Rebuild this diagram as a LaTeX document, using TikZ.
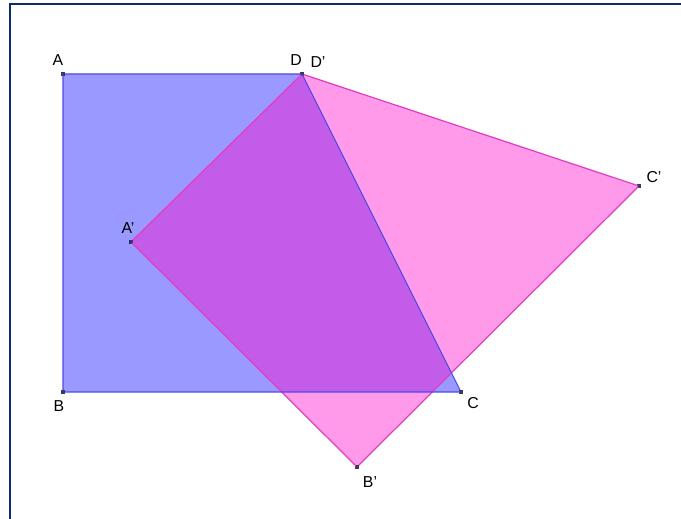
\documentclass[tikz,border=0pt]{standalone}
\usepackage{fontspec}
\setmainfont{Liberation Sans}
\usepackage{tikz}
\usetikzlibrary{positioning}
\definecolor{Frame}{HTML}{0D2B6E}
\definecolor{SqBlue}{HTML}{0000FF}
\definecolor{SqEdge}{HTML}{4A4AE8}
\definecolor{Magenta}{HTML}{FF00C8}
\definecolor{MagEdge}{HTML}{E040C0}
\definecolor{Dot}{HTML}{3A3A5A}
\tikzset{
  frame/.style={draw=Frame,line width=1.2pt},
  square/.style={fill=SqBlue,fill opacity=0.4},
  image/.style={fill=Magenta,fill opacity=0.4},
  squareedge/.style={draw=SqEdge,line width=0.6pt,line join=miter},
  imageedge/.style={draw=MagEdge,line width=0.7pt,line join=miter},
  pt/.style={fill=Dot,inner sep=0pt,minimum size=2.2pt,rectangle},
  lbl/.style={font=\fontsize{9}{10}\selectfont,text=black,inner sep=0pt}
}

\begin{document}
\begin{tikzpicture}[x=0.02cm,y=-0.02cm]
  \useasboundingbox (0,0) rectangle (681,519);
  \draw[frame] (10,519) -- (10,4) -- (681,4);
  % points
  \node[pt] (A) at (63,74) {};
  \node[pt] (D) at (302,74) {};
  \node[pt] (C) at (461,392) {};
  \node[pt] (B) at (63,392) {};
  \node[pt] (A1) at (131,242) {};
  \node[pt] (B1) at (357,467) {};
  \node[pt] (C1) at (639,186) {};
  % fills
  \fill[square] (A.center) -- (D.center) -- (C.center) -- (B.center) -- cycle;
  \fill[image] (D.center) -- (C1.center) -- (B1.center) -- (A1.center) -- cycle;
  \draw[imageedge] (D.center) -- (C1.center) -- (B1.center) -- (A1.center) -- cycle;
  \draw[squareedge] (A.center) -- (D.center) -- (C.center) -- (B.center) -- cycle;
  % dots on top
  \foreach \p in {A,D,C,B,A1,B1,C1}
    \fill[Dot] (\p.center) +(-1.5,-1.5) rectangle +(1.5,1.5);
  % labels
  \node[lbl] (lA) at (58,60) {A};
  \node[lbl] (lD) at (296,60) {D};
  \node[lbl] (lD1) at (318,62) {D'};
  \node[lbl] (lA1) at (128,228) {A'};
  \node[lbl] (lC) at (473,403) {C};
  \node[lbl] (lB) at (59,406) {B};
  \node[lbl] (lB1) at (370,482) {B'};
  \node[lbl] (lC1) at (654,177) {C'};
\end{tikzpicture}
\end{document}
